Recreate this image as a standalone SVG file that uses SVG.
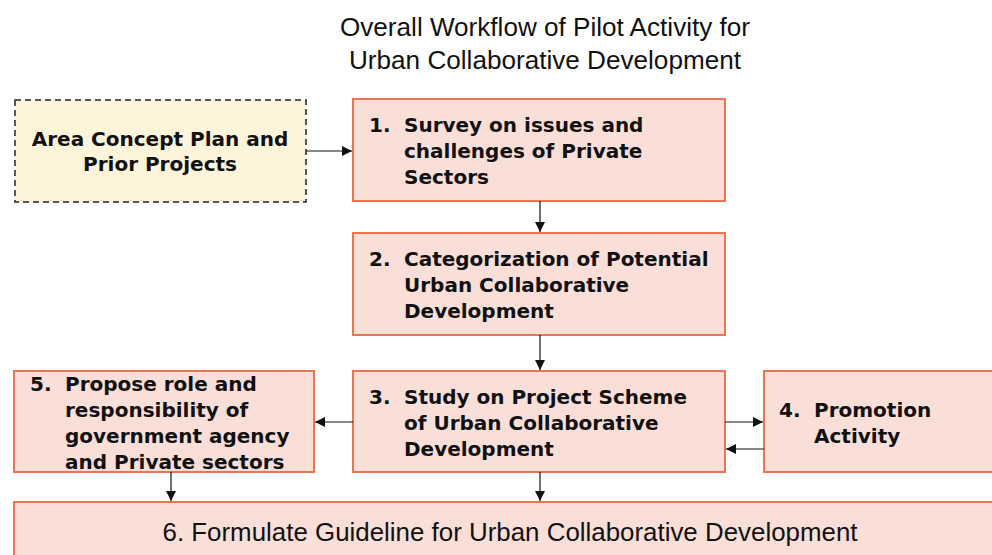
<svg xmlns="http://www.w3.org/2000/svg" width="992" height="555" viewBox="0 0 992 555">
<defs>
<style>
.box{fill:#f9dfd8;stroke:#e8764f;stroke-width:2}
.dash{fill:#fdf4d9;stroke:#222;stroke-width:1.5;stroke-dasharray:6 4}
.t{font-family:"DejaVu Sans",Verdana,sans-serif;font-weight:bold;font-size:20px;fill:#111}
.title{font-family:"Liberation Sans",Arial,sans-serif;font-size:25px;fill:#111;text-anchor:middle}
.t6{font-family:"Liberation Sans",Arial,sans-serif;font-size:25px;fill:#111;text-anchor:middle}
.c{stroke:#111;stroke-width:1.2;fill:none;marker-end:url(#ah)}
</style>
<marker id="ah" viewBox="0 0 10 10" refX="10" refY="5" markerWidth="10" markerHeight="10" markerUnits="userSpaceOnUse" orient="auto">
<path d="M0,0 L10,5 L0,10 z" fill="#111"/>
</marker>
</defs>
<rect width="992" height="555" fill="#fff"/>
<g id="title">
<text class="title" x="545" y="36" textLength="410" lengthAdjust="spacingAndGlyphs">Overall Workflow of Pilot Activity for</text>
<text class="title" x="545" y="69" textLength="392" lengthAdjust="spacingAndGlyphs">Urban Collaborative Development</text>
</g>
<g id="area">
<rect class="dash" x="15" y="100" width="291" height="102"/>
<text class="t" x="160" y="146" text-anchor="middle">Area Concept Plan and</text>
<text class="t" x="160" y="171" text-anchor="middle">Prior Projects</text>
</g>
<g id="n1">
<rect class="box" x="353" y="99" width="372" height="102"/>
<text class="t" x="369" y="132">1.</text>
<text class="t" x="404" y="132">Survey on issues and</text>
<text class="t" x="404" y="158">challenges of Private</text>
<text class="t" x="404" y="184">Sectors</text>
</g>
<g id="n2">
<rect class="box" x="353" y="233" width="372" height="102"/>
<text class="t" x="369" y="266">2.</text>
<text class="t" x="404" y="266">Categorization of Potential</text>
<text class="t" x="404" y="292">Urban Collaborative</text>
<text class="t" x="404" y="318">Development</text>
</g>
<g id="n3">
<rect class="box" x="353" y="371" width="372" height="101"/>
<text class="t" x="369" y="404">3.</text>
<text class="t" x="404" y="404">Study on Project Scheme</text>
<text class="t" x="404" y="430">of Urban Collaborative</text>
<text class="t" x="404" y="456">Development</text>
</g>
<g id="n4">
<rect class="box" x="764" y="371" width="240" height="101"/>
<text class="t" x="779" y="417">4.</text>
<text class="t" x="814" y="417">Promotion</text>
<text class="t" x="814" y="443">Activity</text>
</g>
<g id="n5">
<rect class="box" x="14" y="371" width="300" height="101"/>
<text class="t" x="30" y="391">5.</text>
<text class="t" x="65" y="391">Propose role and</text>
<text class="t" x="65" y="417">responsibility of</text>
<text class="t" x="65" y="443">government agency</text>
<text class="t" x="65" y="469">and Private sectors</text>
</g>
<g id="n6">
<rect class="box" x="14" y="502" width="990" height="70"/>
<text class="t6" x="510" y="541" textLength="695" lengthAdjust="spacingAndGlyphs">6. Formulate Guideline for Urban Collaborative Development</text>
</g>
<g id="connectors">
<line class="c" x1="306" y1="151" x2="352" y2="151"/>
<line class="c" x1="540" y1="201" x2="540" y2="232"/>
<line class="c" x1="540" y1="335" x2="540" y2="370"/>
<line class="c" x1="353" y1="422" x2="315" y2="422"/>
<line class="c" x1="725" y1="422" x2="763" y2="422"/>
<line class="c" x1="764" y1="449" x2="726" y2="449"/>
<line class="c" x1="171" y1="472" x2="171" y2="501"/>
<line class="c" x1="540" y1="472" x2="540" y2="501"/>
</g>
</svg>
